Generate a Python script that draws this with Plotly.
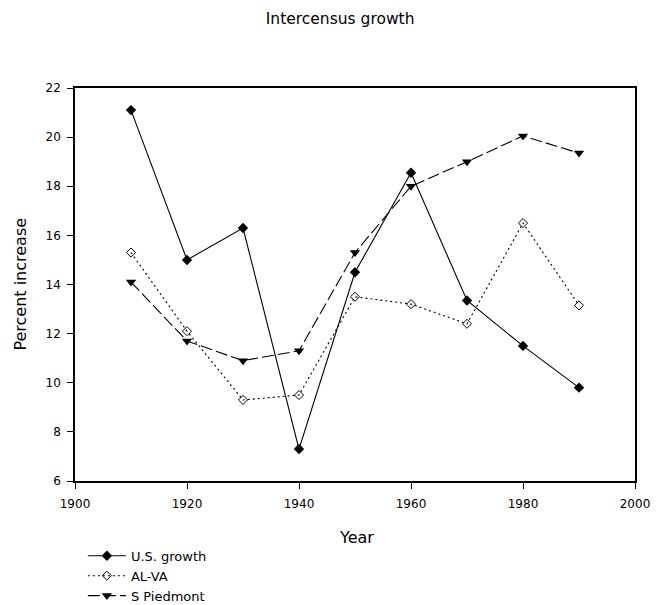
import plotly.graph_objects as go

years = [1910, 1920, 1930, 1940, 1950, 1960, 1970, 1980, 1990]
us_growth = [21.1, 15.0, 16.3, 7.3, 14.5, 18.55, 13.35, 11.5, 9.8]
al_va = [15.3, 12.1, 9.3, 9.5, 13.5, 13.2, 12.4, 16.5, 13.15]
s_piedmont = [14.1, 11.7, 10.9, 11.3, 15.3, 18.0, 19.0, 20.05, 19.35]

x_ticks = [1900, 1920, 1940, 1960, 1980, 2000]
y_ticks = [6, 8, 10, 12, 14, 16, 18, 20, 22]

fig = go.Figure()
fig.add_trace(go.Scatter(x=years, y=us_growth, name="U.S. growth", mode="lines+markers",
                         line=dict(color="black", width=1.1, dash="solid"),
                         marker=dict(symbol="diamond", size=8, color="black")))
fig.add_trace(go.Scatter(x=years, y=al_va, name="AL-VA", mode="lines+markers",
                         line=dict(color="black", width=1.1, dash="2px,3px"),
                         marker=dict(symbol="diamond-open", size=7, color="black", line=dict(width=1))))
fig.add_trace(go.Scatter(x=years, y=s_piedmont, name="S Piedmont", mode="lines+markers",
                         line=dict(color="black", width=1.1, dash="12px,4px"),
                         marker=dict(symbol="triangle-down", size=9, color="black")))

font = "DejaVu Sans, Verdana, sans-serif"
fig.update_layout(
    width=663, height=605,
    paper_bgcolor="white", plot_bgcolor="white",
    margin=dict(l=75, r=28, t=88, b=124, autoexpand=False),
    font=dict(family=font, color="black", size=12),
    title=dict(text="Intercensus growth", x=0.513, xanchor="center", y=0.97, yanchor="middle",
               font=dict(size=15.5, family=font, color="black")),
    showlegend=True,
    legend=dict(x=0.125, y=0.106, xref="container", yref="container", xanchor="left", yanchor="top",
                bgcolor="rgba(0,0,0,0)", font=dict(size=13, family=font), tracegroupgap=0,
                itemwidth=38),
    xaxis=dict(range=[1900, 2000], tickvals=x_ticks, ticks="outside", ticklen=6,
               tickcolor="black", showline=True, linecolor="black", linewidth=1.5,
               mirror=True, showgrid=False, zeroline=False, ticklabelstandoff=5,
               tickfont=dict(size=12, family=font)),
    yaxis=dict(range=[6, 22], tickvals=y_ticks, ticks="outside", ticklen=6,
               tickcolor="black", showline=True, linecolor="black", linewidth=1.5,
               mirror=True, showgrid=False, zeroline=False, ticklabelstandoff=4,
               tickfont=dict(size=12, family=font)),
    annotations=[
        dict(text="Year", xref="paper", yref="paper", x=0.502, y=-0.1425, showarrow=False,
             xanchor="center", yanchor="middle", font=dict(size=16, family=font)),
        dict(text="Percent increase", xref="paper", yref="paper", x=-0.098, y=0.5, showarrow=False,
             xanchor="center", yanchor="middle", textangle=-90, font=dict(size=16, family=font)),
    ],
)

fig.write_html("out.html", config={"displayModeBar": False},
               post_script="document.body.style.margin='0';")
